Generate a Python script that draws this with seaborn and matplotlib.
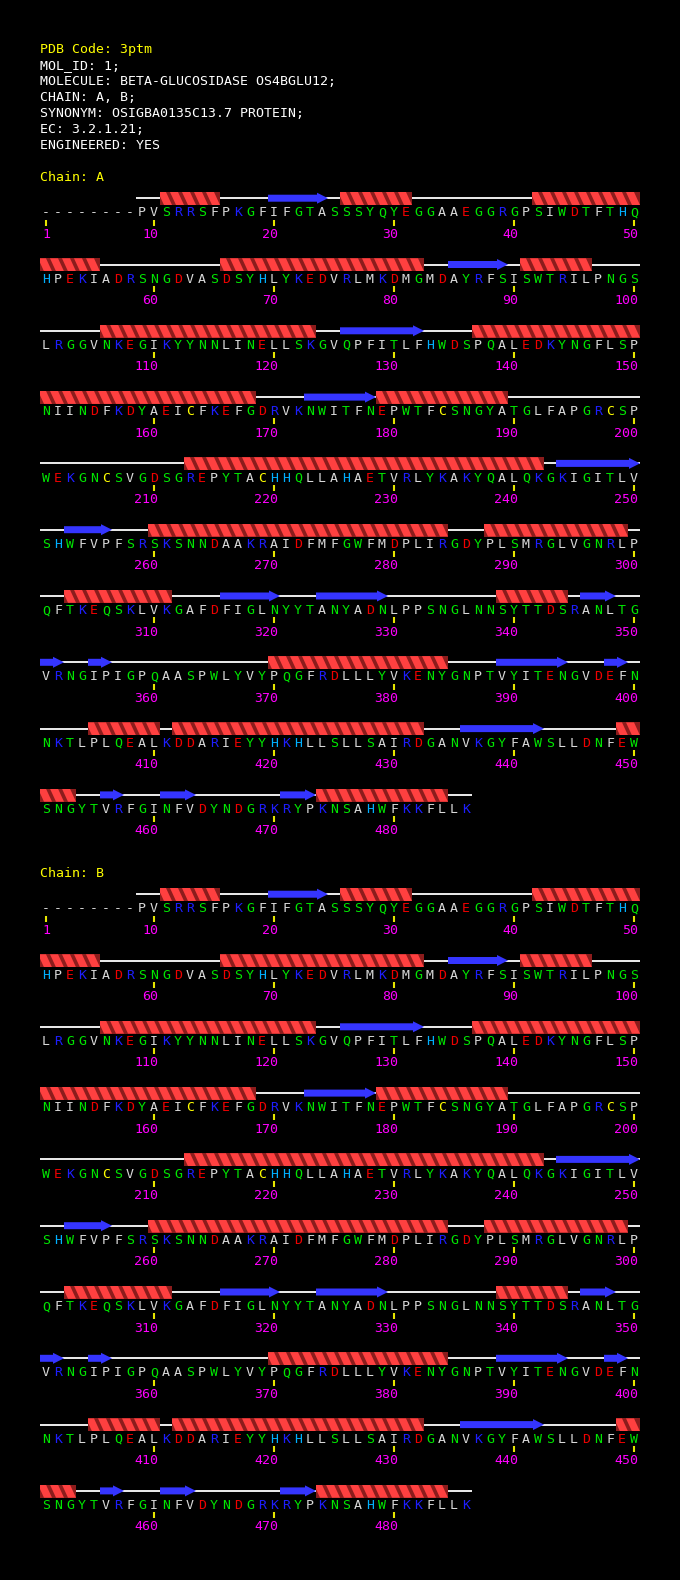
import matplotlib

matplotlib.use("Agg", force=True)
import matplotlib.pyplot as plt
import pandas as pd
import seaborn as sns
from matplotlib.patches import Polygon, Rectangle

HEADER_LINES = [
    "PDB Code: 3ptm",
    "MOL_ID: 1;",
    "MOLECULE: BETA-GLUCOSIDASE OS4BGLU12;",
    "CHAIN: A, B;",
    "SYNONYM: OSIGBA0135C13.7 PROTEIN;",
    "EC: 3.2.1.21;",
    "ENGINEERED: YES",
]
CHAINS = ["A", "B"]

SEQ_ROWS = [
    "--------PVSRRSFPKGFIFGTASSSYQYEGGAAEGGRGPSIWDTFTHQ",
    "HPEKIADRSNGDVASDSYHLYKEDVRLMKDMGMDAYRFSISWTRILPNGS",
    "LRGGVNKEGIKYYNNLINELLSKGVQPFITLFHWDSPQALEDKYNGFLSP",
    "NIINDFKDYAEICFKEFGDRVKNWITFNEPWTFCSNGYATGLFAPGRCSP",
    "WEKGNCSVGDSGREPYTACHHQLLAHAETVRLYKAKYQALQKGKIGITLV",
    "SHWFVPFSRSKSNNDAAKRAIDFMFGWFMDPLIRGDYPLSMRGLVGNRLP",
    "QFTKEQSKLVKGAFDFIGLNYYTANYADNLPPSNGLNNSYTTDSRANLTG",
    "VRNGIPIGPQAASPWLYVYPQGFRDLLLYVKENYGNPTVYITENGVDEFN",
    "NKTLPLQEALKDDARIEYYHKHLLSLLSAIRDGANVKGYFAWSLLDNFEW",
    "SNGYTVRFGINFVDYNDGRKRYPKNSAHWFKKFLLK",
]
FIRST_RESOLVED = 9

# secondary structure (residue ranges, inclusive)
HELICES = [(11, 15), (26, 31), (42, 55), (66, 82), (91, 96), (106, 123),
           (137, 168), (179, 189), (213, 242), (260, 284), (288, 299),
           (303, 311), (339, 344), (370, 384), (405, 410), (412, 432),
           (449, 453), (474, 484)]
STRANDS = [(20, 24), (85, 89), (126, 132), (173, 178), (244, 250), (253, 256),
           (316, 320), (324, 329), (346, 348), (351, 352), (355, 356),
           (389, 394), (398, 399), (436, 442), (456, 457), (461, 463),
           (471, 473)]

RESIDUE_COLORS = {}
for aa in "DE":
    RESIDUE_COLORS[aa] = "#f00000"
for aa in "KR":
    RESIDUE_COLORS[aa] = "#1e1eff"
for aa in "STNQGYW":
    RESIDUE_COLORS[aa] = "#00e600"
RESIDUE_COLORS["H"] = "#00b0ff"
RESIDUE_COLORS["C"] = "#ffff00"
GREY = "#d8d8d8"

MONO = ["DejaVu Sans Mono"]
FS = 9.5
PX = 1 / 12.0          # one pixel in column units
ROW_STEP = 66.3
CHAIN_TOP = {"A": 176.0, "B": 872.0}


def draw_helix(ax, c0, c1, y):
    top, bot = y - 19.5, y - 6.5
    box = Rectangle((c0 - 0.5, top), c1 - c0 + 1, bot - top,
                    facecolor="#8c1c1c", edgecolor="none", zorder=3)
    ax.add_patch(box)
    for c in range(c0, c1 + 1):
        x0 = c - 0.5
        stripe = Polygon([(x0 - 2 * PX, top), (x0 + 6 * PX, top),
                          (x0 + 12 * PX, bot), (x0 + 4 * PX, bot)],
                         closed=True, facecolor="#ff4040", edgecolor="none", zorder=4)
        ax.add_patch(stripe)
        stripe.set_clip_path(box)


def draw_strand(ax, c0, c1, y):
    x0, x1 = c0 - 0.5, c1 + 0.5
    head = min(11 * PX, (x1 - x0) * 0.5)
    yc = y - 13.3
    pts = [(x0, yc - 3.5), (x1 - head, yc - 3.5), (x1 - head, yc - 5.5), (x1, yc),
           (x1 - head, yc + 5.5), (x1 - head, yc + 3.5), (x0, yc + 3.5)]
    ax.add_patch(Polygon(pts, closed=True, facecolor="#3535ff", edgecolor="none", zorder=4))


def draw_row(ax, row_idx, y, ticks):
    seq = SEQ_ROWS[row_idx]
    start = row_idx * 50 + 1
    last = start + len(seq) - 1
    first = max(start, FIRST_RESOLVED)
    ax.plot([first - start + 0.5, last - start + 1.5], [y - 13.3, y - 13.3],
            color="white", lw=1.3, solid_capstyle="butt", zorder=2)
    for a, b in HELICES:
        lo, hi = max(a, start), min(b, last)
        if lo <= hi:
            draw_helix(ax, lo - start + 1, hi - start + 1, y)
    for a, b in STRANDS:
        lo, hi = max(a, start), min(b, last)
        if lo <= hi:
            draw_strand(ax, lo - start + 1, hi - start + 1, y)
    for i, aa in enumerate(seq):
        ax.text(i + 1, y + 4.8, aa, color=RESIDUE_COLORS.get(aa, GREY), ha="center",
                va="baseline", fontsize=FS, family=MONO)
    for n in range(start, last + 1):
        if n == 1 or n % 10 == 0:
            c = n - start + 1
            ticks.append({"col": c, "y": y + 11.0})
            ax.text(c + 4 * PX, y + 26.3, str(n), color="#ff00ff", ha="right",
                    va="baseline", fontsize=FS, family=MONO)


def main():
    sns.set_theme(style="dark")
    plt.rcParams["font.family"] = MONO
    fig = plt.figure(figsize=(6.8, 15.8), dpi=100, facecolor="black")
    ax = fig.add_axes([0, 0, 1, 1])
    ax.set_facecolor("black")

    for i, line in enumerate(HEADER_LINES):
        ax.text(0.5, 48 + 16 * i + 4.8, line, color="#ffff00" if i == 0 else "white",
                ha="left", va="baseline", fontsize=FS, family=MONO)

    ticks = []
    for chain in CHAINS:
        top = CHAIN_TOP[chain]
        ax.text(0.5, top + 4.8, f"Chain: {chain}", color="#ffff00", ha="left",
                va="baseline", fontsize=FS, family=MONO)
        for r in range(len(SEQ_ROWS)):
            draw_row(ax, r, top + 35.5 + ROW_STEP * r, ticks)

    tick_df = pd.DataFrame(ticks)
    sns.scatterplot(data=tick_df, x="col", y="y", marker="|", s=16, color="#e6e600",
                    linewidth=1.5, ax=ax, legend=False, zorder=5)
    ax.set_xlim(1 - 46 * PX, 1 + 634 * PX)
    ax.set_ylim(1580, 0)
    ax.axis("off")

    fig.savefig("out.png", dpi=100, facecolor="black")
    plt.close(fig)


if __name__ == "__main__":
    main()
